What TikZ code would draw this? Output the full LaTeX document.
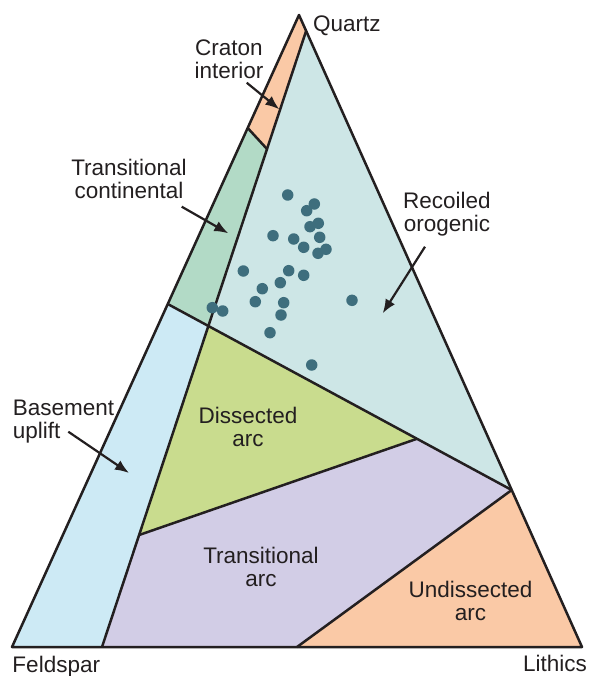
\documentclass[tikz,border=0pt]{standalone}
\usepackage{fontspec}
\setmainfont{Liberation Sans}
\usetikzlibrary{arrows.meta,calc}
\definecolor{ink}{RGB}{35,31,32}
\definecolor{peach}{RGB}{250,201,166}
\definecolor{tcont}{RGB}{178,218,198}
\definecolor{recoil}{RGB}{205,230,230}
\definecolor{basec}{RGB}{205,234,245}
\definecolor{dissect}{RGB}{201,220,142}
\definecolor{tarc}{RGB}{210,205,230}
\definecolor{dotc}{RGB}{62,110,125}
\begin{document}
\begin{tikzpicture}[x=1pt,y=-1pt,
  lbl/.style={font=\fontsize{22.5}{22.8}\selectfont, text=ink, inner sep=0pt, align=center},
  edge/.style={draw=ink, line width=2.5pt, line join=round},
  pointer/.style={draw=ink, line width=2.2pt, -{Latex[length=14pt,width=11pt]}},
  dot/.style={circle, fill=dotc, minimum size=11.5pt, inner sep=0pt}]
\useasboundingbox (0,0) rectangle (589,676);
% corners
\coordinate (Q) at (299,15);
\coordinate (F) at (12,647);
\coordinate (L) at (582,647);
\coordinate (W) at (102,647);
\coordinate (U) at (297,647);
\coordinate (C2) at (267,149);
\coordinate (P1) at (intersection of Q--L and W--C2);
\coordinate (C1) at ($(Q)!0.1788!(F)$);
\coordinate (B1) at ($(Q)!0.4573!(F)$);
\coordinate (R1) at ($(Q)!0.7516!(L)$);
\coordinate (X1) at (intersection of B1--R1 and W--C2);
\coordinate (D1) at ($(B1)!0.7246!(R1)$);
\coordinate (D2) at ($(W)!0.2249!(C2)$);
% fills
\fill[peach] (Q) -- (P1) -- (C2) -- (C1) -- cycle;
\fill[tcont] (C1) -- (C2) -- (X1) -- (B1) -- cycle;
\fill[recoil] (P1) -- (R1) -- (D1) -- (X1) -- cycle;
\fill[basec] (B1) -- (X1) -- (D2) -- (W) -- (F) -- cycle;
\fill[dissect] (X1) -- (D1) -- (D2) -- cycle;
\fill[tarc] (D2) -- (D1) -- (R1) -- (U) -- (W) -- cycle;
\fill[peach] (R1) -- (L) -- (U) -- cycle;
% lines
\draw[edge] (Q) -- (L) -- (F) -- cycle;
\draw[edge] (P1) -- (W);
\draw[edge] (C1) -- (C2);
\draw[edge] (B1) -- (R1);
\draw[edge] (D2) -- (D1);
\draw[edge] (R1) -- (U);
% data points
\foreach \x/\y [count=\i] in {287.7/195, 314.3/204, 306.7/210.7, 318.3/223.3, 310/226.7,
  273/235.7, 293.7/239, 319.7/237.3, 303.7/247.3, 326/249.3, 318/253.3, 243.3/271,
  288.7/270.7, 303.7/275.3, 280.3/282.7, 262.3/288.7, 255.3/301.7, 283.7/302.7,
  352/300.3, 212.3/307.7, 222.7/311, 281/315, 270/332.7, 311.7/365}
  \node[dot] (pt\i) at (\x,\y) {};
% labels
\node[lbl, anchor=base west] (quartz) at (313,31.5) {Quartz};
\node[lbl, anchor=base west] (feldspar) at (12.3,672.5) {Feldspar};
\node[lbl, anchor=base west] (lithics) at (523,671.7) {Lithics};
\node[lbl, anchor=north] (craton) at (229,39.3) {Craton\\interior};
\node[lbl, anchor=north] (transcont) at (129,159.3) {Transitional\\continental};
\node[lbl, anchor=north] (recoiled) at (447,191.7) {Recoiled\\orogenic};
\node[lbl, anchor=north west, align=left] (basement) at (12.7,400) {Basement\\uplift};
\node[lbl, anchor=north] (dissected) at (248,406.7) {Dissected\\arc};
\node[lbl, anchor=north] (transarc) at (261,546.7) {Transitional\\arc};
\node[lbl, anchor=north] (undissected) at (470.5,580.7) {Undissected\\arc};
% pointers
\coordinate (a1s) at (246.7,82.7);  \coordinate (a1e) at (279.3,109.3);
\coordinate (a2s) at (181.7,206.7); \coordinate (a2e) at (228.3,233.3);
\coordinate (a3s) at (425,246.7);   \coordinate (a3e) at (382.7,313.3);
\coordinate (a4s) at (68.3,431.7);  \coordinate (a4e) at (129,473);
\draw[pointer] (a1s) -- (a1e);
\draw[pointer] (a2s) -- (a2e);
\draw[pointer] (a3s) -- (a3e);
\draw[pointer] (a4s) -- (a4e);
\end{tikzpicture}
\end{document}
